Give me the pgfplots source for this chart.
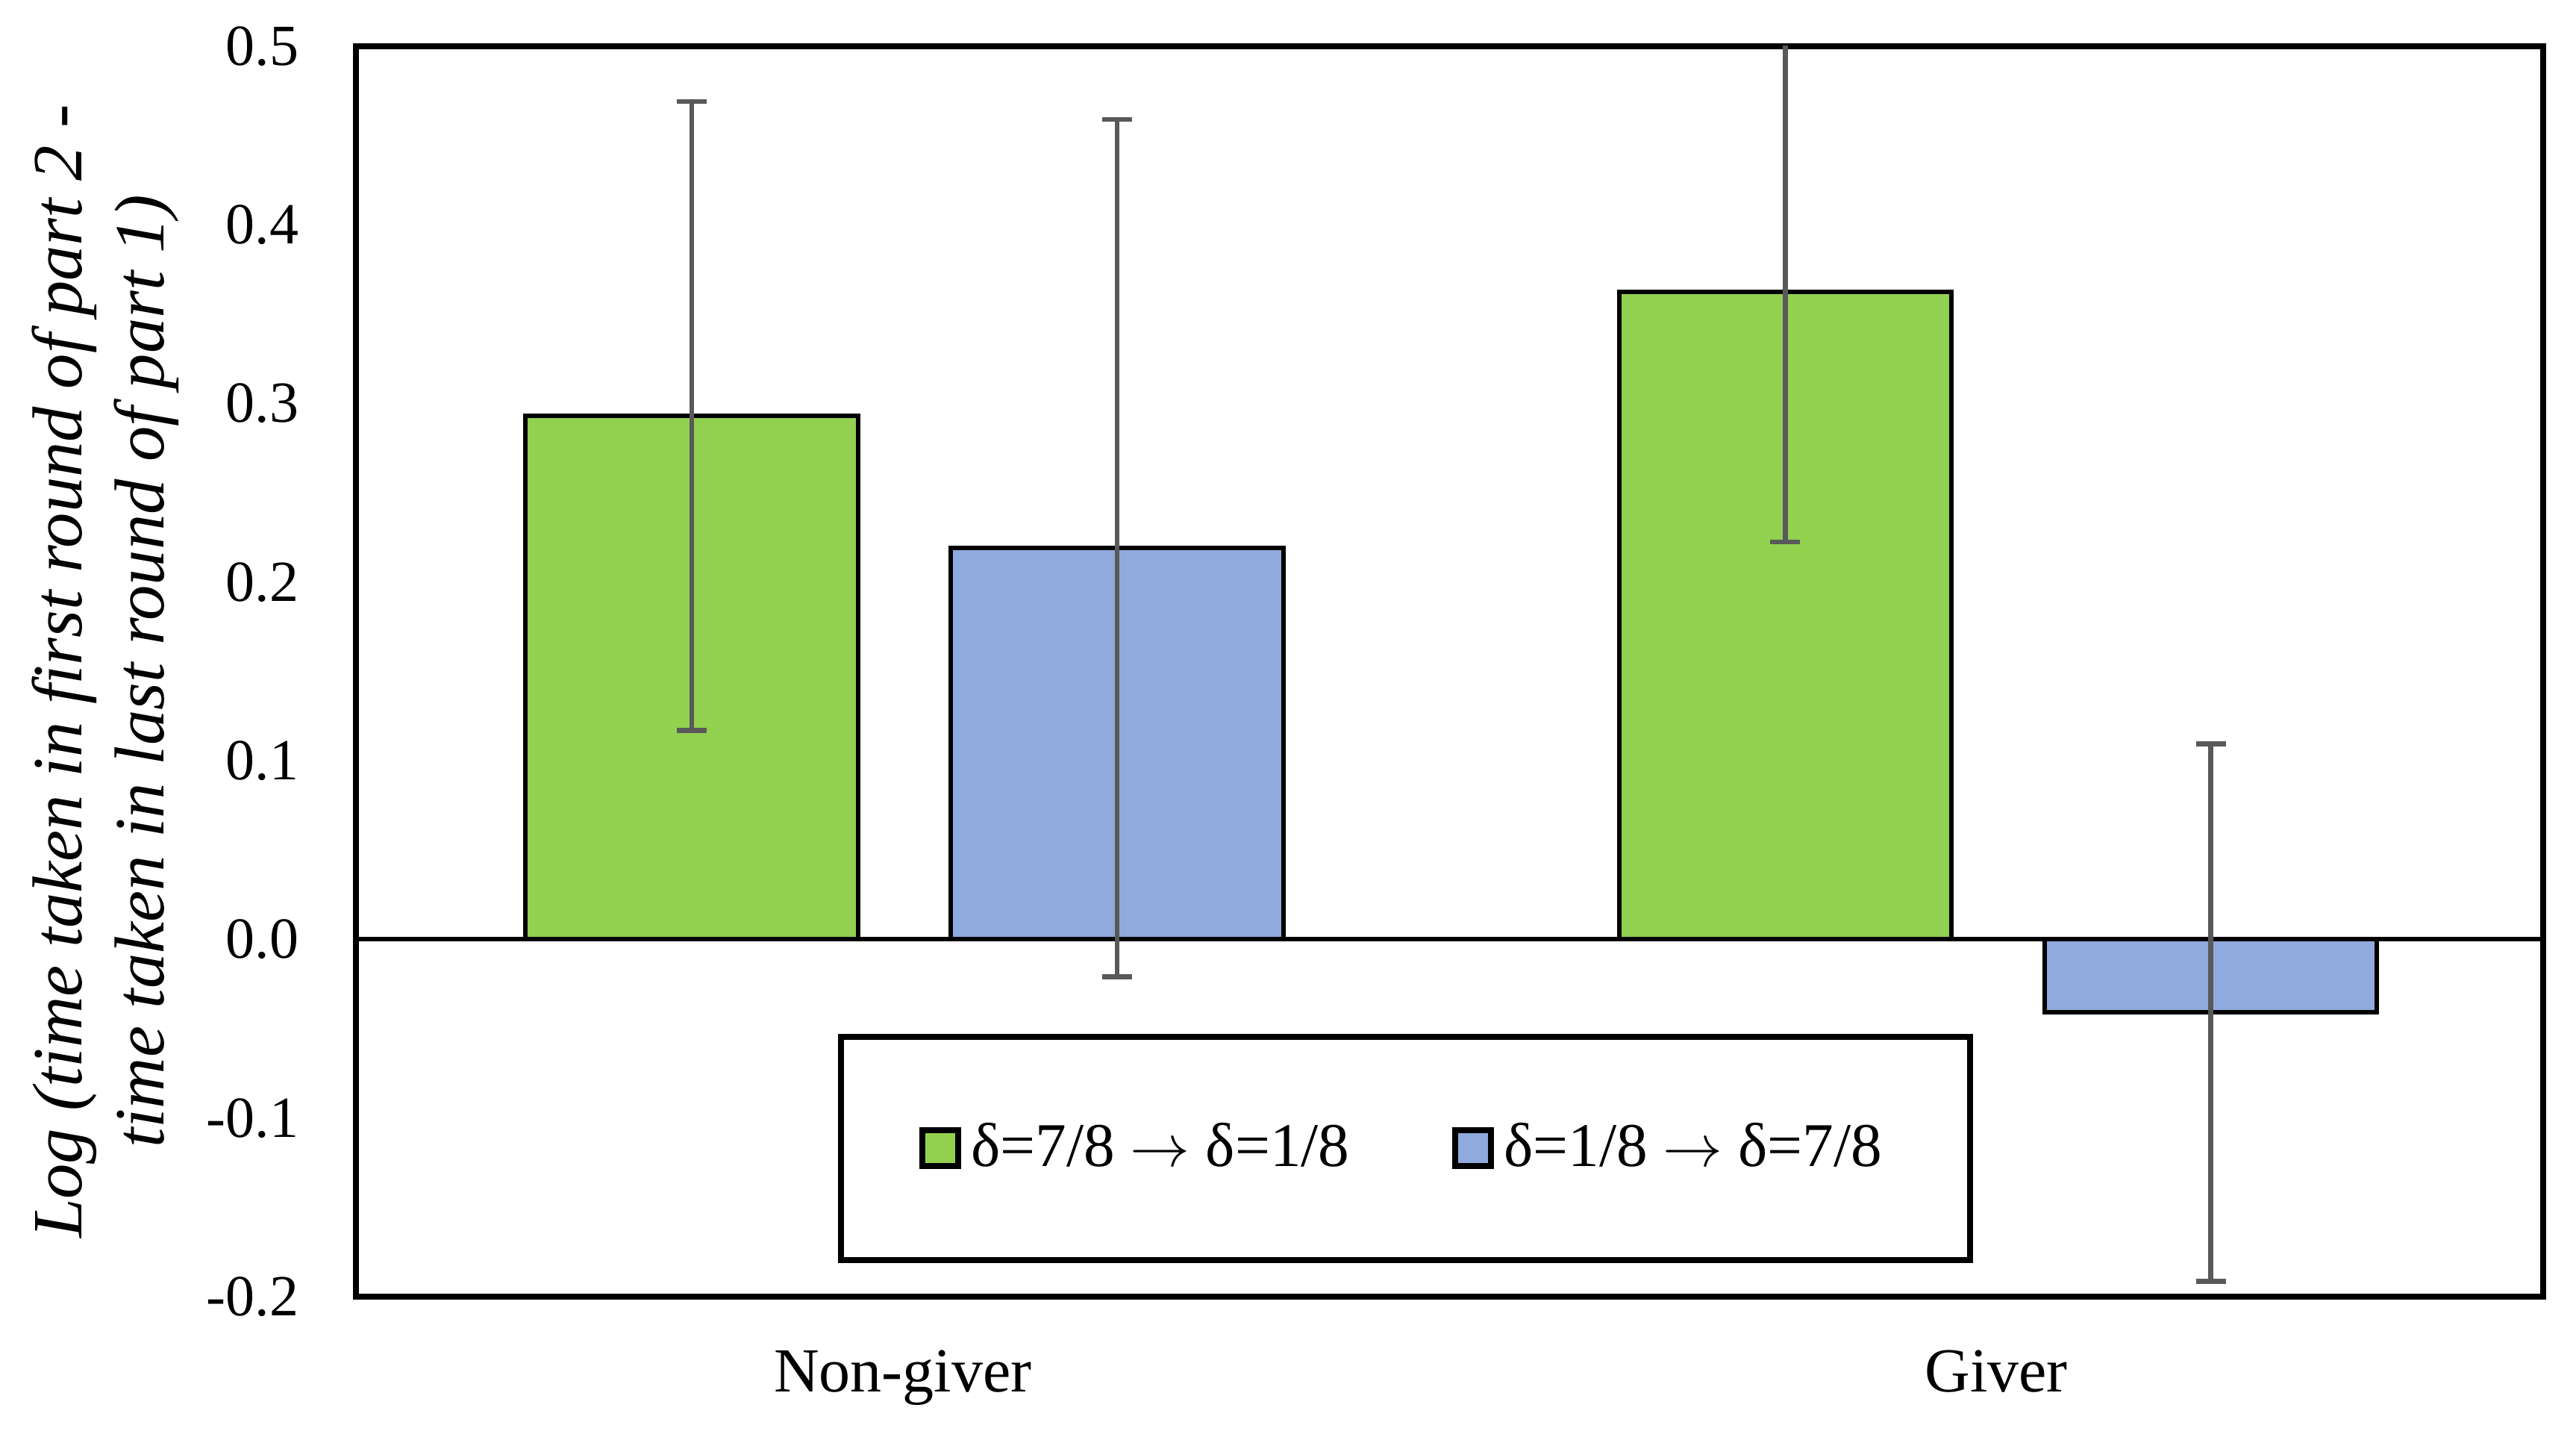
\documentclass[border=0pt]{standalone}
\usepackage{fontspec}
\setmainfont{Liberation Serif}
\usepackage{pgfplots}
\usepackage{pgfplotstable}
\pgfplotsset{compat=1.18}
\usetikzlibrary{calc}
\definecolor{barGreen}{HTML}{92D050}
\definecolor{barBlue}{HTML}{8FAADC}
\definecolor{errGray}{HTML}{595959}
% x = category position (Non-giver = 0, Giver = 1) plus the bar's offset
\pgfplotstableread{
x y err
-0.193 0.293 0.176
0.807 0.3625 0.140
}\greendata
\pgfplotstableread{
x y err
0.196 0.219 0.240
1.196 -0.041 0.1505
}\bluedata
\begin{document}
\begin{tikzpicture}
\begin{axis}[
  name=ax,
  scale only axis,
  width=439.65pt, height=251.25pt,
  xmin=-0.5, xmax=1.5, ymin=-0.2, ymax=0.5,
  xtick={0,1}, xticklabels={Non-giver,Giver},
  ytick={-0.2,-0.1,0,0.1,0.2,0.3,0.4,0.5},
  major tick length=0pt,
  axis line style={line width=1.2pt},
  /pgf/number format/assume math mode=true,
  yticklabel={\pgfmathprintnumber[fixed,fixed zerofill,precision=1]{\tick}},
  yticklabel style={xshift=-8pt, font=\fontsize{11.7}{14}\selectfont},
  xticklabel style={anchor=base, yshift=-19.2pt, font=\fontsize{12.6}{14}\selectfont},
  ylabel={\itshape Log (time taken in first round of part 2 -\\ \itshape time taken in last round of part 1)},
  ylabel style={at={(axis description cs:-0.1146,0.5)}, anchor=center, rotate=0, align=center,
    font=\fontsize{14.2}{16.5}\selectfont},
  legend style={at={(axis cs:0.46,-0.117)}, anchor=center, draw=black, line width=1.2pt, fill=white,
    inner xsep=15.7pt, inner ysep=15.3pt,
    font=\fontsize{12.5}{14}\selectfont,
    /tikz/every even column/.append style={column sep=18.6pt}},
  legend columns=2,
  legend image code/.code={\draw[#1, line width=1.2pt] (0pt,-3.6pt) rectangle (7.2pt,3.6pt);},
]
\addplot[black, line width=0.9pt, forget plot] coordinates {(-0.5,0) (1.5,0)};
\addplot[ybar, bar width=0.304, bar shift=0, fill=barGreen, draw=black, line width=0.9pt,
  error bars/.cd, y dir=both, y explicit,
  error bar style={line width=1pt, errGray},
  error mark options={rotate=90, mark size=3pt, line width=1pt, errGray}]
  table[x=x, y=y, y error=err] {\greendata};
\addlegendentry{δ=7/8 $\rightarrow$ δ=1/8}
\addplot[ybar, bar width=0.304, bar shift=0, fill=barBlue, draw=black, line width=0.9pt,
  error bars/.cd, y dir=both, y explicit,
  error bar style={line width=1pt, errGray},
  error mark options={rotate=90, mark size=3pt, line width=1pt, errGray}]
  table[x=x, y=y, y error=err] {\bluedata};
\addlegendentry{δ=1/8 $\rightarrow$ δ=7/8}
\end{axis}
\pgfresetboundingbox
\path[use as bounding box] ($(ax.south west)+(-71.55pt,-28.2pt)$) rectangle ($(ax.north east)+(6.6pt,9.3pt)$);
\end{tikzpicture}
\end{document}
